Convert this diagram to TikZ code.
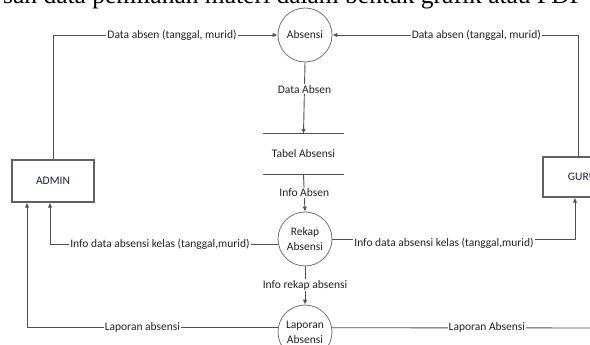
\documentclass[tikz,border=0pt]{standalone}
\usepackage{fontspec}
\setmainfont{Carlito}
\newfontfamily\topserif{Liberation Serif}
\usetikzlibrary{arrows.meta}
\definecolor{ln}{HTML}{505050}
\definecolor{tx}{HTML}{222222}
\tikzset{
  flow/.style={draw=ln, line width=0.9pt, -{Latex[length=5pt,width=4.5pt]}},
  plain/.style={draw=ln, line width=0.9pt},
  lbl/.style={fill=white, inner sep=1pt, text=tx, font=\fontsize{11.5}{13}\selectfont},
  proc/.style={circle, draw=ln!80, line width=0.8pt, minimum size=54pt, inner sep=0pt, align=center, text=tx, font=\fontsize{11.5}{15}\selectfont},
  ent/.style={rectangle, draw=ln!90, line width=1.1pt, minimum width=82pt, minimum height=42pt, inner sep=0pt, text=tx!80!blue, font=\fontsize{11.5}{13}\selectfont},
  storebox/.style={rectangle, minimum width=81pt, minimum height=40pt, inner sep=0pt, text=tx, font=\fontsize{11.5}{13}\selectfont}
}
\begin{document}
\begin{tikzpicture}[x=1pt, y=-1pt]
\useasboundingbox (0,0) rectangle (590,345);
\clip (0,0) rectangle (590,345);
\fill[white] (0,0) rectangle (590,345);
% cut-off heading line
\node[anchor=base east, inner sep=0pt, font=\topserif\fontsize{25.5}{28}\selectfont] (heading) at (584,4) {san data pemilahan materi dalam bentuk grafik atau PDF};
% processes
\node[proc] (absensi) at (305,35) {Absensi};
\node[proc] (rekap) at (305,239) {Rekap\\Absensi};
\node[proc] (laporan) at (305,332) {Laporan\\Absensi};
% data store
\node[storebox] (store) at (303.5,154) {Tabel Absensi};
\draw[plain] (store.north west) -- (store.north east);
\draw[plain] (store.south west) -- (store.south east);
% entities
\node[ent] (admin) at (53,181) {ADMIN};
\node[ent, minimum width=78pt, minimum height=40pt] (guru) at (582,177) {GURU};
\coordinate (lapend) at (600,328);
% flows
\draw[flow] (admin.north) |- node[lbl, pos=0.765] {Data absen (tanggal, murid)} (absensi.west);
\draw[flow] ([xshift=-4pt]guru.north) |- node[lbl, pos=0.707] {Data absen (tanggal, murid)} (absensi.east);
\draw[flow] (absensi.south) -- node[lbl, pos=0.375] {Data Absen} (store.north);
\draw[flow] (store.south) -- node[lbl, pos=0.5] {Info Absen} (rekap.north);
\draw[flow] (rekap.south) -- node[lbl, pos=0.49] {Info rekap absensi} (laporan.north);
\draw[flow] (rekap.191) -| node[lbl, pos=0.259] {Info data absensi kelas (tanggal,murid)} ([xshift=-3pt]admin.south);
\draw[flow] (rekap.east) -| node[lbl, pos=0.23, yshift=-4pt] {Info data absensi kelas (tanggal,murid)} ([xshift=-7pt]guru.south);
\draw[flow] (laporan.171) -| node[lbl, pos=0.27] {Laporan absensi} ([xshift=-26pt]admin.south);
\draw[plain] (laporan.9) -- node[lbl, pos=0.578] {Laporan Absensi} (lapend);
\end{tikzpicture}
\end{document}
